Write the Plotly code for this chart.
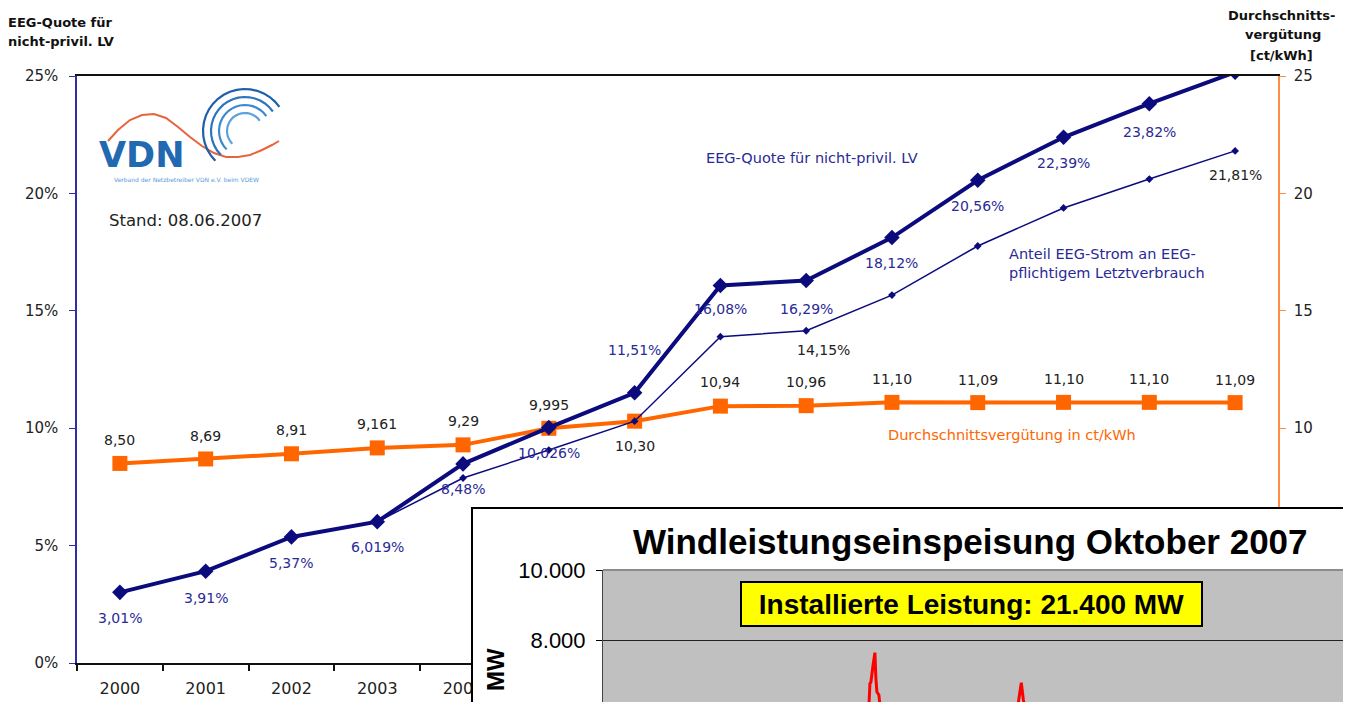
import math
import plotly.graph_objects as go

# ---------------- data ----------------
years = ['2000', '2001', '2002', '2003', '2004', '2005', '2006',
         '2007', '2008', '2009', '2010', '2011', '2012', '2013']

# Durchschnittsvergütung in ct/kWh (right axis)
verguetung = [8.50, 8.69, 8.91, 9.161, 9.29, 9.995, 10.30,
              10.94, 10.96, 11.10, 11.09, 11.10, 11.10, 11.09]
verguetung_labels = ['8,50', '8,69', '8,91', '9,161', '9,29', '9,995', '10,30',
                     '10,94', '10,96', '11,10', '11,09', '11,10', '11,10', '11,09']

# EEG-Quote für nicht-privil. LV (%)
quote = [3.01, 3.91, 5.37, 6.019, 8.48, 10.026, 11.51,
         16.08, 16.29, 18.12, 20.56, 22.39, 23.82, 25.16]
quote_labels = ['3,01%', '3,91%', '5,37%', '6,019%', '8,48%', '10,026%', '11,51%',
                '16,08%', '16,29%', '18,12%', '20,56%', '22,39%', '23,82%', '25,16%']

# Anteil EEG-Strom an EEG-pflichtigem Letztverbrauch (%)
anteil = [3.01, 3.91, 5.37, 6.019, 7.88, 9.07, 10.30,
          13.90, 14.15, 15.67, 17.76, 19.38, 20.61, 21.81]
anteil_labels = {'2008': '14,15%', '2013': '21,81%'}

pct_ticks = [0, 5, 10, 15, 20, 25]
pct_ticktext = ['0%', '5%', '10%', '15%', '20%', '25%']
ct_ticks = [10, 15, 20, 25]

# Inset: Windleistungseinspeisung Oktober 2007 (hour of month, MW)
wind_hours = [0, 10, 20, 32, 44, 56, 68, 80, 92, 104, 116, 128, 140, 152, 164,
              176, 188, 200, 212, 224, 236, 248, 256, 262, 265, 267, 268, 269,
              271, 273, 274, 275, 277, 278, 280, 283, 288, 296, 306, 318, 330,
              342, 354, 366, 378, 390, 400, 408, 413, 416, 418, 420, 422, 424,
              428, 434, 444, 456, 468, 480, 492, 504, 516, 528, 540, 552, 564,
              576, 588, 600, 612, 624, 636, 648, 660, 672, 684, 696, 708, 720,
              732, 744]
wind_mw = [2100, 2800, 3300, 2500, 1800, 1200, 900, 1500, 2400, 3100, 2600, 1900, 1400, 2200, 3000,
           3600, 2900, 2300, 3000, 3800, 4200, 4600, 5200, 5600, 5900, 6100, 6750, 6800,
           7250, 7640, 6900, 6520, 6430, 6050, 5600, 5100, 4500, 3900, 3300, 2600, 2000,
           1500, 1900, 2700, 3400, 3900, 4500, 5100, 5600, 6000, 6400, 6780, 6300, 5800,
           5300, 4700, 4000, 3300, 2600, 2000, 1500, 1100, 1600, 2400, 3200, 3800, 4300,
           3700, 2900, 2200, 1700, 2300, 3100, 3800, 4400, 4900, 4200, 3400, 2700, 2100,
           1800, 2300]
wind_ticks = [6000, 8000, 10000]
wind_range = [6000, 10000]

# ---------------- style ----------------
W, H = 1351, 702
OFF = 8  # page offset of the figure inside the browser window
def px(x):
    return (x - OFF) / W
def py(y):
    return 1 - (y - OFF) / H

DV = 'DejaVu Sans'
AR = 'Liberation Sans, Arial, sans-serif'
ORANGE = '#FF6600'
ORANGE_AX = '#FF8C40'
NAVY = '#0B0B7E'
NAVY_TXT = '#2A2A96'
BLUE_AX = '#2E2EA8'

quote_dy = [-26, -27, -26, -25, -25, -25, 43, -24, -28, -25, -26, -26, -28, -29]
verg_dy = [23, 23, 24, 24, 24, 23, -25, 24, 24, 23, 23, 23, 23, 23]
anteil_shift = {'2008': (17, -19), '2013': (0, -24)}

fig = go.Figure()

fig.add_trace(go.Scatter(
    x=years, y=verguetung, xaxis='x', yaxis='y', mode='lines+markers',
    line=dict(color=ORANGE, width=4),
    marker=dict(symbol='square', size=15, color=ORANGE),
    hoverinfo='skip'))
fig.add_trace(go.Scatter(
    x=years, y=anteil, xaxis='x', yaxis='y2', mode='lines+markers',
    line=dict(color=NAVY, width=1.5),
    marker=dict(symbol='diamond', size=6, color=NAVY),
    hoverinfo='skip'))
fig.add_trace(go.Scatter(
    x=years, y=quote, xaxis='x', yaxis='y2', mode='lines+markers',
    line=dict(color=NAVY, width=4),
    marker=dict(symbol='diamond', size=12, color=NAVY),
    hoverinfo='skip'))
fig.add_trace(go.Scatter(x=[None], y=[None], xaxis='x3', yaxis='y3',
                         mode='lines', hoverinfo='skip'))
fig.add_trace(go.Scatter(
    x=wind_hours, y=wind_mw, xaxis='x4', yaxis='y4', mode='lines',
    line=dict(color='#FF0000', width=3), hoverinfo='skip'))

annotations = []
def ann(text, x, y, size, color='#000', family=DV, xanchor='center',
        yanchor='middle', **kw):
    d = dict(text=text, x=x, y=y, xref=kw.pop('xref', 'paper'),
             yref=kw.pop('yref', 'paper'), showarrow=False,
             font=dict(family=family, size=size, color=color),
             xanchor=xanchor, yanchor=yanchor)
    d.update(kw)
    annotations.append(d)

# data labels
for i, (v, t) in enumerate(zip(verguetung, verguetung_labels)):
    ann(t, i, v, 14, '#222', xref='x', yref='y', yshift=verg_dy[i])
for i, (v, t) in enumerate(zip(quote, quote_labels)):
    ann(t, i, v, 14, NAVY_TXT, xref='x', yref='y2', yshift=quote_dy[i])
for yr, t in anteil_labels.items():
    i = years.index(yr)
    dx, dy = anteil_shift[yr]
    ann(t, i, anteil[i], 14, '#222', xref='x', yref='y2', xshift=dx, yshift=dy)

# axis titles
ann('<b>EEG-Quote für</b>', px(6), py(22), 13, '#111', xanchor='left')
ann('<b>nicht-privil. LV</b>', px(6), py(42), 13, '#111', xanchor='left')
ann('<b>Durchschnitts-</b>', px(1281), py(15), 13, '#111')
ann('<b>vergütung</b>', px(1283), py(35), 13, '#111')
ann('<b>[ct/kWh]</b>', px(1281), py(55), 13, '#111')

# series annotations
ann('EEG-Quote für nicht-privil. LV', px(812), py(158), 14.5, NAVY_TXT)
ann('Anteil EEG-Strom an EEG-<br>pflichtigem Letztverbrauch', px(1007), py(264),
    14.5, NAVY_TXT, xanchor='left', align='left')
ann('Durchschnittsvergütung in ct/kWh', px(1012), py(435), 14.5, ORANGE)
ann('Stand: 08.06.2007', px(107), py(220), 16.5, '#222', xanchor='left')

# logo texts
ann('<b>VDN</b>', px(141), py(155), 35, '#2169B0')
ann('Verband der Netzbetreiber VDN e.V. beim VDEW', px(186), py(179), 6, '#5A9BD5')

# inset texts
ann('<b>Windleistungseinspeisung Oktober 2007</b>', px(970), py(541), 35, '#000', family=AR)
ann('<b>Installierte Leistung: 21.400 MW</b>', px(971.5), py(604), 28, '#000', family=AR,
    bgcolor='#FFFF00', bordercolor='#000', borderwidth=2, borderpad=1,
    width=457, height=40)
ann('<b>MW</b>', px(495), py(670), 24, '#000', family=AR, textangle=-90)

# ---------------- shapes ----------------
shapes = []
shapes.append(dict(type='rect', xref='x4', yref='y4',
                   x0=wind_hours[0], x1=wind_hours[-1],
                   y0=wind_range[0], y1=wind_range[1],
                   fillcolor='#C0C0C0', line=dict(width=0), layer='below'))
shapes.append(dict(type='line', xref='x4 domain', yref='y4 domain',
                   x0=0, x1=1, y0=1, y1=1, line=dict(color='#8C8C8C', width=2),
                   layer='above'))
shapes.append(dict(type='line', xref='x4 domain', yref='y4 domain',
                   x0=1, x1=1, y0=0, y1=1, line=dict(color='#8C8C8C', width=2),
                   layer='above'))

def path_from(points):
    return 'M ' + ' L '.join(f'{px(x):.5f},{py(y):.5f}' for x, y in points)

wave = [(108, 141), (118, 130), (130, 120), (142, 115), (154, 114), (166, 118),
        (178, 127), (190, 137), (202, 146), (214, 153), (226, 157), (238, 157),
        (250, 155), (262, 150), (272, 145), (279, 141)]
shapes.append(dict(type='path', xref='paper', yref='paper', path=path_from(wave),
                   line=dict(color='#E8643C', width=2), layer='above'))
arc_colors = ['#1D5FA8', '#2C74BD', '#3C89CF', '#5AA2DD']
for r, c in zip([42, 34, 26, 18], arc_colors):
    pts = []
    for k in range(0, 21):
        a = math.radians(35 + k * 9.5)
        pts.append((245 + r * math.cos(a), 131 - r * math.sin(a)))
    shapes.append(dict(type='path', xref='paper', yref='paper', path=path_from(pts),
                       line=dict(color=c, width=2.2), layer='above'))

tickfont = dict(family=DV, size=15, color='#222')

fig.update_layout(
    width=W, height=H, autosize=False,
    margin=dict(l=0, r=0, t=0, b=0, pad=0, autoexpand=False),
    paper_bgcolor='white', plot_bgcolor='white',
    showlegend=False, separators=',.',
    xaxis=dict(domain=[px(77), px(1278)], anchor='y', type='category',
               range=[-0.5, 13.5], showline=True, linecolor='#111', linewidth=2,
               mirror=True, ticks='outside', tickson='boundaries', ticklen=6,
               tickcolor='#111', tickwidth=1.5,
               tickfont=dict(family=DV, size=16, color='#222'), automargin=False,
               showgrid=False, zeroline=False, ticklabelstandoff=10),
    yaxis=dict(domain=[py(663), py(76)], anchor='x', side='right', range=[0, 25],
               tickvals=ct_ticks, showline=True, linecolor=ORANGE_AX, linewidth=1.5,
               ticks='outside', ticklen=6, tickcolor=ORANGE_AX, tickfont=tickfont,
               showgrid=False, zeroline=False, ticklabelstandoff=5, automargin=False),
    yaxis2=dict(overlaying='y', anchor='x', side='left', range=[0, 25],
                tickvals=pct_ticks, ticktext=pct_ticktext, showline=True,
                linecolor=BLUE_AX, linewidth=1.5, ticks='outside', ticklen=6,
                tickcolor=BLUE_AX, tickfont=tickfont, showgrid=False,
                zeroline=False, ticklabelstandoff=8, automargin=False),
    xaxis3=dict(domain=[px(473), 1], anchor='y3', range=[0, 1], side='top',
                showline=True, linecolor='#000', linewidth=2, showticklabels=False,
                showgrid=False, zeroline=False, ticks='', automargin=False),
    yaxis3=dict(domain=[0, py(509)], anchor='x3', range=[0, 1], side='left',
                showline=True, linecolor='#000', linewidth=2, showticklabels=False,
                showgrid=False, zeroline=False, ticks='', automargin=False),
    xaxis4=dict(domain=[px(603), px(1344)], anchor='y4',
                range=[wind_hours[0], wind_hours[-1]], showline=False,
                showticklabels=False, showgrid=False, zeroline=False, ticks='',
                automargin=False),
    yaxis4=dict(domain=[0, py(570)], anchor='x4', range=wind_range,
                tickvals=wind_ticks, tickformat=',d', showline=True,
                linecolor='#444', linewidth=1, ticks='outside', ticklen=6,
                tickcolor='#000', tickfont=dict(family=AR, size=22, color='#000'),
                showgrid=True, gridcolor='#222', gridwidth=1, zeroline=False,
                ticklabelstandoff=6, automargin=False),
    annotations=annotations,
    shapes=shapes,
)

fig.write_html('out.html')
